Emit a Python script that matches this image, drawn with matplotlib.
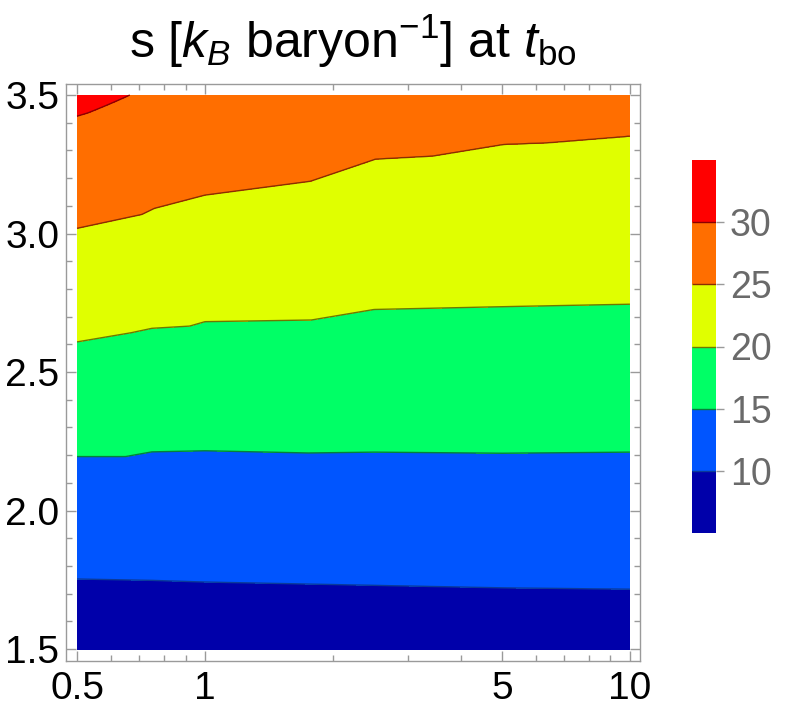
import numpy as np
import matplotlib
matplotlib.use("Agg")
import matplotlib.pyplot as plt
from matplotlib import font_manager
from matplotlib.ticker import FixedLocator, FixedFormatter, NullFormatter

# ---- fonts ----
def pick_font(cands):
    for c in cands:
        try:
            font_manager.findfont(c, fallback_to_default=False)
            return c
        except Exception:
            pass
    return "DejaVu Sans"

FONT = pick_font(["Liberation Sans", "Arial"])
plt.rcParams["font.family"] = [FONT, "DejaVu Sans"]
plt.rcParams["mathtext.fontset"] = "custom"
plt.rcParams["mathtext.rm"] = FONT
plt.rcParams["mathtext.it"] = FONT + ":italic"
plt.rcParams["mathtext.bf"] = FONT + ":bold"

# ---- data: contour positions ----
c10_x = [0.5, 0.75, 1.0, 2.5, 5.0, 10.0]
c10_y = [1.753, 1.748, 1.742, 1.730, 1.721, 1.716]

c15_x = [0.5, 0.65, 0.75, 1.0, 1.75, 2.5, 5.0, 10.0]
c15_y = [2.195, 2.195, 2.212, 2.216, 2.208, 2.211, 2.207, 2.211]

c20_x = [0.5, 0.67, 0.75, 0.92, 1.0, 1.78, 2.5, 5.0, 10.0]
c20_y = [2.609, 2.642, 2.658, 2.666, 2.682, 2.688, 2.726, 2.736, 2.745]

c25_x = [0.5, 0.71, 0.76, 1.0, 1.77, 2.52, 3.43, 5.04, 6.4, 10.0]
c25_y = [3.019, 3.069, 3.091, 3.139, 3.189, 3.269, 3.280, 3.322, 3.328, 3.352]

# entropy values along the edges of the domain
top_x = [0.5, 0.53, 0.667, 10.0]
top_s = [30.94, 30.79, 29.99, 28.0]
bottom_s = 7.0

levels = [5, 10, 15, 20, 25, 30, 35]
fill_colors = ["#0000aa", "#0055ff", "#00ff66", "#e0ff00", "#ff6e00", "#ff0000"]
line_colors = ["#0a3a9a", "#06803a", "#6e7800", "#8a2e00", "#8a0000"]
cbar_ticks = [10, 15, 20, 25, 30]

x_major = [0.5, 1, 5, 10]
x_major_lbl = ["0.5", "1", "5", "10"]
x_minor = [0.6, 0.7, 0.8, 0.9, 2, 3, 4, 6, 7, 8, 9]
y_major = [1.5, 2.0, 2.5, 3.0, 3.5]
y_major_lbl = ["1.5", "2.0", "2.5", "3.0", "3.5"]
y_minor = [round(1.5 + 0.1 * i, 2) for i in range(21)]

# ---- build the field on a fine grid ----
xf = np.logspace(np.log10(0.5), np.log10(10.0), 400)
yf = np.linspace(1.5, 3.5, 700)
lx = np.log10(xf)
def at(xs, ys):
    return np.interp(lx, np.log10(xs), ys)
Y10, Y15, Y20, Y25 = at(c10_x, c10_y), at(c15_x, c15_y), at(c20_x, c20_y), at(c25_x, c25_y)
ST = at(top_x, top_s)
Z = np.empty((yf.size, xf.size))
for j in range(xf.size):
    ky = [1.5, Y10[j], Y15[j], Y20[j], Y25[j], 3.5]
    kz = [bottom_s, 10, 15, 20, 25, ST[j]]
    Z[:, j] = np.interp(yf, ky, kz)

# ---- figure ----
W, H = 789, 718
fig = plt.figure(figsize=(W / 100, H / 100), dpi=100)
ax = fig.add_axes([66 / W, 1 - 661 / H, (640 - 66) / W, (661 - 84) / H])

cf = ax.contourf(xf, yf, Z, levels=levels, colors=fill_colors)
cl = ax.contour(xf, yf, Z, levels=cbar_ticks, colors=line_colors, linewidths=1.0)

ax.set_xscale("log")
ax.set_xlim(0.4709, 10.56)
ax.set_ylim(1.457, 3.540)

grey = "#9a9a9a"
for s in ax.spines.values():
    s.set_color(grey)
    s.set_linewidth(1.0)

ax.xaxis.set_major_locator(FixedLocator(x_major))
ax.xaxis.set_major_formatter(FixedFormatter(x_major_lbl))
ax.xaxis.set_minor_locator(FixedLocator(x_minor))
ax.xaxis.set_minor_formatter(NullFormatter())
ax.yaxis.set_major_locator(FixedLocator(y_major))
ax.yaxis.set_major_formatter(FixedFormatter(y_major_lbl))
ax.yaxis.set_minor_locator(FixedLocator(y_minor))
ax.yaxis.set_minor_formatter(NullFormatter())
ax.tick_params(which="both", direction="in", top=True, right=True, color=grey, width=1.0)
ax.tick_params(which="major", length=7, labelsize=28, labelcolor="black")
ax.tick_params(which="minor", length=4.5)
ax.tick_params(axis="x", which="major", pad=7)
ax.tick_params(axis="y", which="major", pad=5)

ax.set_title(r"s [$k_B$ baryon$^{-1}$] at $t_{\mathrm{bo}}$", fontsize=36, pad=19)

cax = fig.add_axes([692 / W, 1 - 533 / H, 24 / W, (533 - 160) / H])
cb = fig.colorbar(cf, cax=cax, ticks=cbar_ticks)
cb.add_lines(cl)
cb.outline.set_visible(False)
cax.tick_params(length=6, width=1.0, color=grey, labelsize=27, labelcolor="#6a6a6a", pad=4)

fig.savefig("out.png", dpi=100)
